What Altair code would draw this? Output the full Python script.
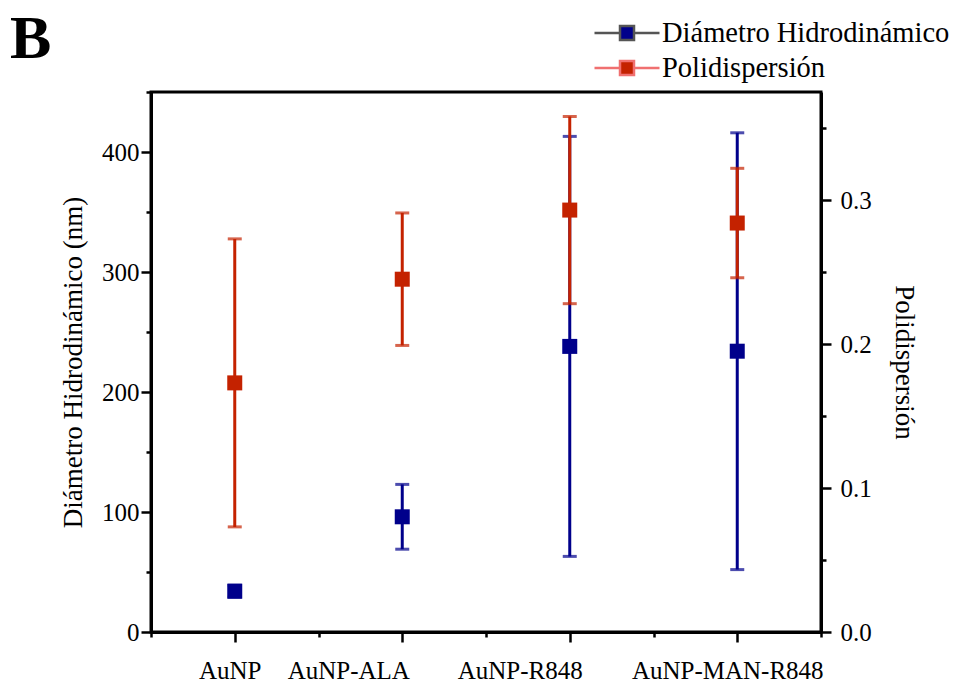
import altair as alt
import pandas as pd

# ---------------- data ----------------
samples = ["AuNP", "AuNP-ALA", "AuNP-R848", "AuNP-MAN-R848"]
diam_mean = [34, 96, 238, 234]
diam_sd = [5, 27, 175, 182]
pdi_mean = [0.173, 0.245, 0.293, 0.284]
pdi_sd = [0.100, 0.046, 0.065, 0.038]
series_names = ["Diámetro Hidrodinámico", "Polidispersión"]
series_colors = ["#00008B", "#C42200"]
legend_line_colors = ["#555555", "#F07070"]
panel_label = ["B"]

left_ticks = [0, 50, 100, 150, 200, 250, 300, 350, 400, 450]
right_ticks = [0.0, 0.05, 0.1, 0.15, 0.2, 0.25, 0.3, 0.35]
x_ticks = [0.5, 1, 1.5, 2, 2.5, 3, 3.5, 4, 4.5]

FONT = "Liberation Serif"

pos = list(range(1, len(samples) + 1))
diam = pd.DataFrame({"sample": samples, "pos": pos, "mean": diam_mean, "sd": diam_sd,
                     "series": series_names[0]})
diam["lo"] = diam["mean"] - diam["sd"]
diam["hi"] = diam["mean"] + diam["sd"]
pdi = pd.DataFrame({"sample": samples, "pos": pos, "mean": pdi_mean, "sd": pdi_sd,
                    "series": series_names[1]})
pdi["lo"] = pdi["mean"] - pdi["sd"]
pdi["hi"] = pdi["mean"] + pdi["sd"]

# ---------------- axes ----------------
js_names = "[" + ",".join("'" + s + "'" for s in samples) + "]"
x_axis = alt.Axis(
    values=x_ticks, title=None, grid=False,
    labelExpr=f"datum.value % 1 == 0 ? {js_names}[datum.value - 1] : ''",
    tickSize={"condition": {"test": "datum.value % 1 != 0", "value": 5}, "value": 10},
    labelOffset={"condition": [
        {"test": "datum.value == 1", "value": -5},
        {"test": "datum.value == 2", "value": -54},
        {"test": "datum.value == 3", "value": -50},
        {"test": "datum.value == 4", "value": -10}], "value": 0},
    labelPadding=16, labelAngle=0, labelLimit=400, labelOverlap=False,
)
x_scale = alt.Scale(domain=[0.5, 4.5], nice=False, zero=False)

left_axis = alt.Axis(
    orient="left", values=left_ticks, grid=False,
    title="Diámetro Hidrodinámico (nm)",
    labelExpr="datum.value % 100 == 0 ? datum.label : ''",
    tickSize={"condition": {"test": "datum.value % 100 != 0", "value": 5}, "value": 10},
    labelPadding=2, titlePadding=14,
)
left_scale = alt.Scale(domain=[0, 450], nice=False)

right_axis = alt.Axis(
    orient="right", values=right_ticks, grid=False,
    title="Polidispersión", titleAngle=90,
    labelExpr="round(datum.value * 20) % 2 == 0 ? format(datum.value, '.1f') : ''",
    tickSize={"condition": {"test": "round(datum.value * 20) % 2 != 0", "value": 5}, "value": 10},
    labelPadding=9, titlePadding=18,
)
right_scale = alt.Scale(domain=[0, 0.375], nice=False)

stroke_sig = (f"datum.value === '{series_names[1]}' ? '{legend_line_colors[1]}' : "
              f"'{legend_line_colors[0]}'")
legend = alt.Legend(
    title=None, orient="none", legendX=457, legendY=-78,
    symbolType="M-1.857,0H-0.43M0.43,0H1.857M-0.4,-0.4H0.4V0.4H-0.4Z",
    symbolSize=1225, labelFont=FONT, labelFontSize=28.5, labelColor="black",
    labelOffset=16, padding=0, rowPadding=1, labelLimit=600,
    symbolStrokeColor={"expr": stroke_sig}, symbolStrokeWidth=2.5, symbolOpacity=1,
)
color_scale = alt.Scale(domain=series_names, range=series_colors)


def series_layer(df, color, scale, axis):
    base = alt.Chart(df)
    x = alt.X("pos:Q", scale=x_scale, axis=x_axis)
    rules = base.mark_rule(strokeWidth=3, color=color).encode(
        x=x, y=alt.Y("lo:Q", scale=scale, axis=axis), y2="hi:Q")
    caps_lo = base.mark_tick(orient="horizontal", size=14, thickness=3, color=color).encode(
        x=x, y=alt.Y("lo:Q", scale=scale, axis=axis))
    caps_hi = base.mark_tick(orient="horizontal", size=14, thickness=3, color=color).encode(
        x=x, y=alt.Y("hi:Q", scale=scale, axis=axis))
    squares = base.mark_square(size=225, opacity=1).encode(
        x=x, y=alt.Y("mean:Q", scale=scale, axis=axis),
        color=alt.Color("series:N", scale=color_scale, legend=legend))
    return alt.layer(rules, caps_lo, caps_hi, squares)


blue = series_layer(diam, series_colors[0], left_scale, left_axis)
red = series_layer(pdi, series_colors[1], right_scale, right_axis)

panel = alt.Chart(pd.DataFrame({"label": panel_label})).mark_text(
    font=FONT, fontSize=62, fontWeight="bold", color="black",
    align="left", baseline="alphabetic",
).encode(text="label:N", x=alt.value(-141), y=alt.value(-34))

chart = alt.layer(blue, red, panel).resolve_scale(y="independent").properties(
    width=670, height=540,
    padding={"left": 151, "top": 92, "right": 132, "bottom": 52},
    autosize="none",
    background="white",
).configure_view(stroke="black", strokeWidth=3).configure_axis(
    domainColor="black", domainWidth=3, tickColor="black", tickWidth=2.5,
    labelFont=FONT, labelFontSize=25, labelColor="black",
    titleFont=FONT, titleFontSize=27, titleFontWeight="normal", titleColor="black",
)

chart.save("out.html", embed_options={"renderer": "svg", "actions": False})
